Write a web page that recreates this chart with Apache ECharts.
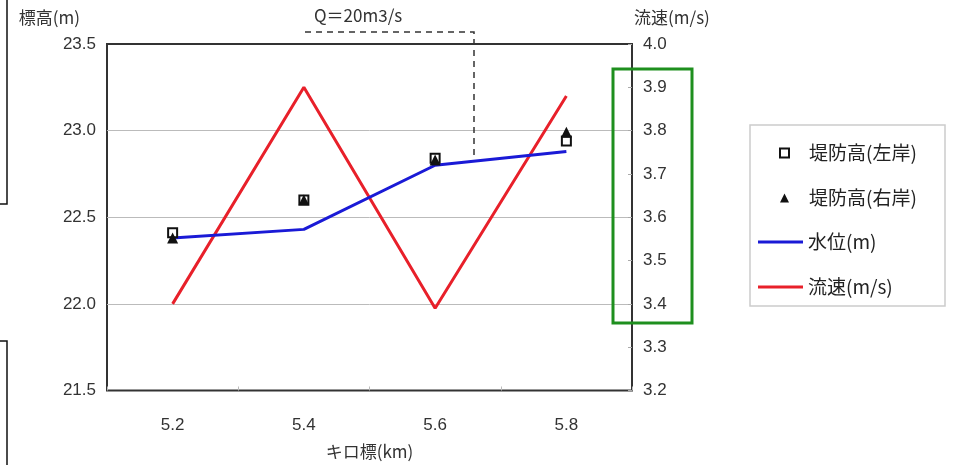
<!DOCTYPE html>
<html>
<head>
<meta charset="utf-8">
<script src="https://cdn.jsdelivr.net/npm/echarts@6/dist/echarts.min.js"></script>
<style>html,body{margin:0;padding:0;background:#fff}#c{width:955px;height:465px}</style>
</head>
<body>
<div id="c"></div>
<script>
var categories = ['5.2', '5.4', '5.6', '5.8'];
var leftBank = [22.41, 22.60, 22.84, 22.94];
var rightBank = [22.38, 22.60, 22.83, 22.99];
var waterLevel = [22.38, 22.43, 22.80, 22.88];
var velocity = [3.40, 3.90, 3.39, 3.88];

var FONT = '"Liberation Sans", "Noto Sans CJK JP", sans-serif';
var JP = '"Noto Sans CJK JP", sans-serif';

var chart = echarts.init(document.getElementById('c'), null, {renderer: 'canvas'});
chart.setOption({
  animation: false,
  backgroundColor: '#fff',
  grid: {left: 107, right: 323, top: 44, bottom: 70, show: true, borderColor: '#333', borderWidth: 2, backgroundColor: 'transparent'},
  legend: [
    {
      orient: 'vertical', left: 779, top: 143, padding: 0,
      itemWidth: 9, itemHeight: 9, itemGap: 25,
      textStyle: {fontFamily: JP, fontSize: 19, lineHeight: 20, color: '#222', padding: [0, 0, 0, 15]},
      data: [{name: '堤防高(左岸)'}, {name: '堤防高(右岸)'}]
    },
    {
      orient: 'vertical', left: 758, top: 232, padding: 0,
      itemWidth: 45, itemHeight: 3, itemGap: 25,
      textStyle: {fontFamily: JP, fontSize: 19, lineHeight: 20, color: '#222'},
      data: [{name: '水位(m)', icon: 'rect'}, {name: '流速(m/s)', icon: 'rect'}]
    }
  ],
  xAxis: {
    type: 'category', data: categories, boundaryGap: true,
    name: 'キロ標(km)', nameLocation: 'middle', nameGap: 61,
    nameTextStyle: {fontFamily: JP, fontSize: 17, color: '#333', verticalAlign: 'middle'},
    axisLine: {show: false},
    axisTick: {show: true, inside: true, length: 4, lineStyle: {color: '#bbb'}},
    axisLabel: {fontFamily: FONT, fontSize: 17, color: '#333', margin: 26},
    splitLine: {show: false}
  },
  yAxis: [
    {
      type: 'value', min: 21.5, max: 23.5, interval: 0.5, position: 'left',
      name: '標高(m)', nameLocation: 'end', nameGap: 26,
      nameTextStyle: {fontFamily: JP, fontSize: 17, color: '#333', align: 'right', verticalAlign: 'middle', padding: [0, 27, 0, 0]},
      axisLine: {show: false}, axisTick: {show: false},
      axisLabel: {fontFamily: FONT, fontSize: 17, color: '#333', margin: 11, formatter: function (v) { return v.toFixed(1); }},
      splitLine: {show: true, showMinLine: false, showMaxLine: false, lineStyle: {color: '#bbb', width: 1}}
    },
    {
      type: 'value', min: 3.2, max: 4.0, interval: 0.1, position: 'right',
      name: '流速(m/s)', nameLocation: 'end', nameGap: 26,
      nameTextStyle: {fontFamily: JP, fontSize: 17, color: '#333', align: 'left', verticalAlign: 'middle', padding: [0, 0, 0, 2]},
      axisLine: {show: false},
      axisTick: {show: true, inside: true, length: 4, lineStyle: {color: '#aaa'}},
      axisLabel: {fontFamily: FONT, fontSize: 17, color: '#333', margin: 11, formatter: function (v) { return v.toFixed(1); }},
      splitLine: {show: false}
    }
  ],
  series: [
    {
      name: '水位(m)', type: 'line', yAxisIndex: 0, data: waterLevel,
      showSymbol: false, symbol: 'none', lineStyle: {color: '#1a1ad6', width: 3}, itemStyle: {color: '#1a1ad6'}, z: 3
    },
    {
      name: '流速(m/s)', type: 'line', yAxisIndex: 1, data: velocity,
      showSymbol: false, symbol: 'none', lineStyle: {color: '#e8202a', width: 3}, itemStyle: {color: '#e8202a'}, z: 2
    },
    {
      name: '堤防高(左岸)', type: 'scatter', yAxisIndex: 0, data: leftBank,
      symbol: 'rect', symbolSize: 9,
      itemStyle: {color: '#fff', borderColor: '#111', borderWidth: 2, opacity: 1}, z: 5
    },
    {
      name: '堤防高(右岸)', type: 'scatter', yAxisIndex: 0, data: rightBank,
      symbol: 'triangle', symbolSize: 11,
      itemStyle: {color: '#111', opacity: 1}, z: 6
    }
  ],
  graphic: [
    {type: 'rect', shape: {x: 750, y: 125, width: 195, height: 181}, style: {fill: 'none', stroke: '#ccc', lineWidth: 1.5}, z: -1},
    {type: 'polyline', shape: {points: [[305, 32], [474, 32], [474, 160]]}, style: {stroke: '#333', lineWidth: 1.5, lineDash: [6, 5], fill: 'none'}, z: 10},
    {type: 'text', left: 314, top: 7, style: {text: 'Q＝20m3/s', font: '17px ' + JP, fill: '#333'}},
    {type: 'rect', shape: {x: 613, y: 69, width: 79, height: 254}, style: {fill: 'none', stroke: '#1e8f1e', lineWidth: 3}, z: 10},
    {type: 'polyline', shape: {points: [[0, 204], [7, 204], [7, 0]]}, style: {stroke: '#111', lineWidth: 1.5, fill: 'none'}},
    {type: 'polyline', shape: {points: [[0, 341], [7, 341], [7, 465]]}, style: {stroke: '#111', lineWidth: 1.5, fill: 'none'}}
  ]
});
</script>
</body>
</html>
